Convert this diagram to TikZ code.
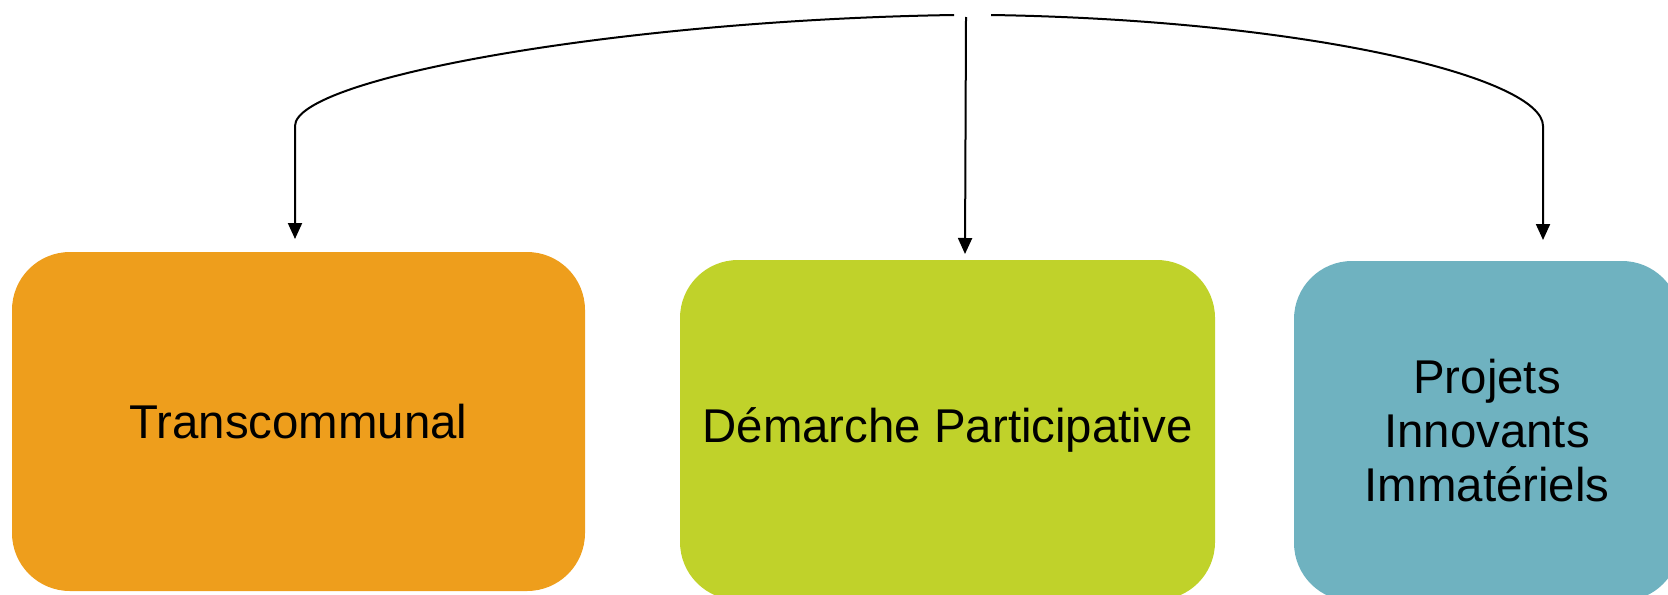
\documentclass[tikz,border=0pt]{standalone}
\usepackage{fontspec}
\setmainfont{Liberation Sans}
\usetikzlibrary{arrows.meta}
\definecolor{orangebox}{HTML}{EE9E1C}
\definecolor{greenbox}{HTML}{C0D22A}
\definecolor{tealbox}{HTML}{6FB2C0}
\begin{document}
\begin{tikzpicture}[>={Triangle[length=8pt,width=7pt]}, x=.5pt, y=-.5pt,
        bloc/.style={rounded corners=29pt, align=center, inner sep=0pt,
            font=\fontsize{23.7}{27}\selectfont},
        fleche/.style={->, line width=1pt}]
        \useasboundingbox (0,0) rectangle (1668,594);

        \node[bloc, fill=orangebox, minimum width=286.5pt, minimum height=169.5pt] (trans) at (298.5,421.5) {Transcommunal};
        \node[bloc, fill=greenbox, minimum width=267.5pt, minimum height=170pt] (demarche) at (947.5,430) {Démarche Participative};
        \node[bloc, fill=tealbox, minimum width=193pt, minimum height=170pt] (projets) at (1487,431) {Projets\\Innovants\\Immatériels};

        \coordinate (gauche) at (954,15);
        \coordinate (haut) at (966,17);
        \coordinate (droite) at (991,15);
        \coordinate (ftrans) at (295,239);
        \coordinate (fdemarche) at (965,254);
        \coordinate (fprojets) at (1543,240);

        \draw[fleche](gauche) .. controls (620,20) and (295,78) .. (295,126) -- (ftrans);
        \draw[fleche](haut)--(fdemarche);
        \draw[fleche](droite) .. controls (1310,20) and (1543,78) .. (1543,126) -- (fprojets);
    \end{tikzpicture}
\end{document}
